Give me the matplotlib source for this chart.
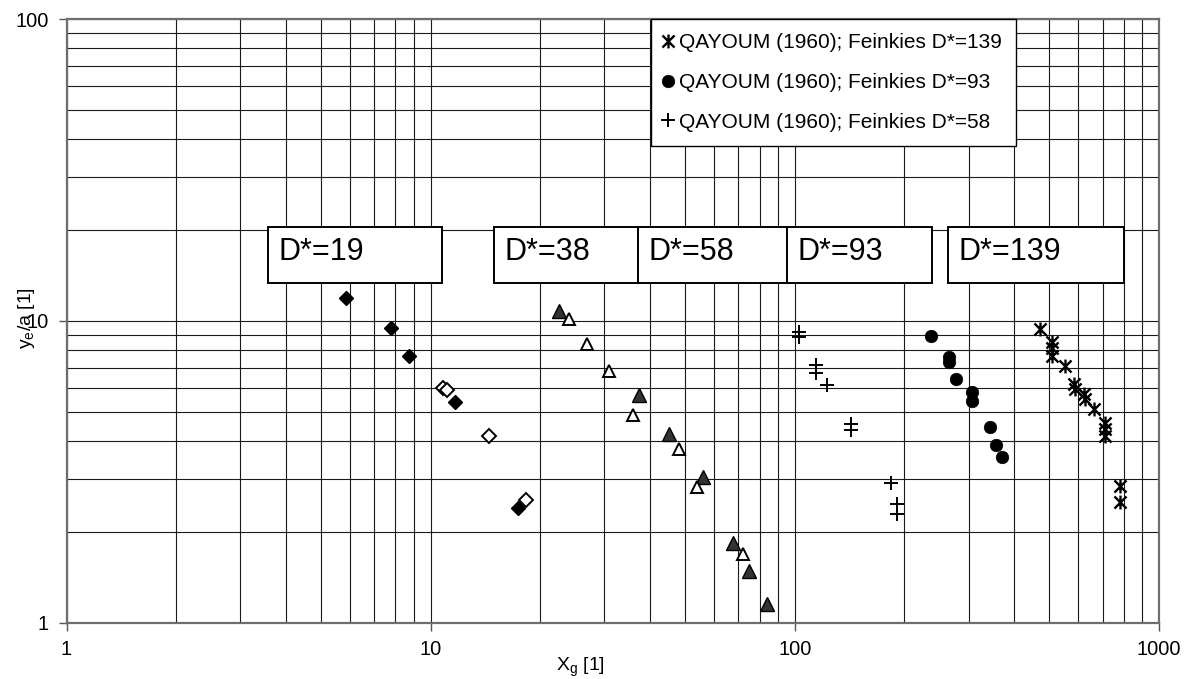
import matplotlib
matplotlib.use("Agg")
import matplotlib.pyplot as plt
from matplotlib.path import Path
from matplotlib.patches import Rectangle
from matplotlib.ticker import FixedLocator, LogLocator, FuncFormatter, NullFormatter

# ---------------------------------------------------------------- data
# D*=19 (diamonds)
dia_filled_x = [5.85, 7.77, 8.71, 11.65, 17.34]
dia_filled_y = [11.92, 9.48, 7.66, 5.39, 2.40]
dia_open_x = [10.80, 11.07, 14.44, 18.24]
dia_open_y = [6.00, 5.91, 4.16, 2.55]

# D*=38 / D*=58 (triangles)
tri_filled_x = [22.46, 37.3, 45.0, 55.8, 67.5, 74.8, 83.8]
tri_filled_y = [10.82, 5.69, 4.22, 3.05, 1.845, 1.49, 1.153]
tri_open_x = [23.98, 26.87, 30.88, 35.94, 47.96, 53.84, 72.0]
tri_open_y = [10.13, 8.37, 6.85, 4.88, 3.77, 2.82, 1.69]

# QAYOUM (1960), Feinkies D*=58
plus_x = [102.6, 102.6, 114.5, 114.5, 122.4, 142.2, 142.2, 183.1, 190.2, 190.2]
plus_y = [9.22, 8.83, 7.15, 6.71, 6.14, 4.56, 4.36, 2.90, 2.48, 2.30]

# QAYOUM (1960), Feinkies D*=93
circ_x = [237.2, 265.8, 265.8, 276.6, 305.9, 305.9, 342.8, 356.0, 369.8]
circ_y = [8.92, 7.62, 7.33, 6.43, 5.81, 5.45, 4.46, 3.89, 3.55]

# QAYOUM (1960), Feinkies D*=139
ast_x = [472.4, 508.6, 508.6, 508.6, 552.1, 583.0, 589.3, 623.7, 627.6,
         664.5, 709.1, 709.1, 709.1, 781.6, 781.6]
ast_y = [9.39, 8.54, 8.11, 7.66, 7.10, 6.18, 5.95, 5.72, 5.52,
         5.10, 4.58, 4.39, 4.16, 2.84, 2.52]

legend_labels = ["QAYOUM (1960); Feinkies D*=139",
                 "QAYOUM (1960); Feinkies D*=93",
                 "QAYOUM (1960); Feinkies D*=58"]

box_labels = ["D*=19", "D*=38", "D*=58", "D*=93", "D*=139"]

x_ticks = [1, 10, 100, 1000]
y_ticks = [1, 10, 100]

# ---------------------------------------------------------------- style
plt.rcParams['font.family'] = ['Liberation Sans', 'DejaVu Sans']
plt.rcParams['mathtext.default'] = 'regular'

# asterisk marker: an X crossed by a vertical stroke
ASTERISK = Path([(-1, -1), (1, 1), (-1, 1), (1, -1), (0, -1.15), (0, 1.15)],
                [Path.MOVETO, Path.LINETO, Path.MOVETO, Path.LINETO,
                 Path.MOVETO, Path.LINETO])

fig = plt.figure(figsize=(11.94, 6.79), dpi=100)
ax = fig.add_axes([0.0557, 0.0825, 0.915, 0.8895])
ax.set_xscale('log')
ax.set_yscale('log')
ax.set_xlim(x_ticks[0], x_ticks[-1])
ax.set_ylim(y_ticks[0], y_ticks[-1])

fmt = FuncFormatter(lambda v, p: f"{v:g}")
ax.xaxis.set_major_locator(FixedLocator(x_ticks))
ax.yaxis.set_major_locator(FixedLocator(y_ticks))
ax.xaxis.set_minor_locator(LogLocator(base=10, subs=range(2, 10)))
ax.yaxis.set_minor_locator(LogLocator(base=10, subs=range(2, 10)))
ax.xaxis.set_major_formatter(fmt)
ax.yaxis.set_major_formatter(fmt)
ax.xaxis.set_minor_formatter(NullFormatter())
ax.yaxis.set_minor_formatter(NullFormatter())

ax.grid(which='both', color='#1a1a1a', lw=0.8, zorder=0)
ax.set_axisbelow(True)
ax.tick_params(which='minor', length=0)
ax.tick_params(which='major', length=6, width=1.0, color='#555555',
               labelsize=14.4, direction='out')
ax.tick_params(axis='x', pad=6)
ax.tick_params(axis='y', pad=7)
for s in ax.spines.values():
    s.set_color('#6e6e6e')
    s.set_linewidth(1.6)

# ---------------------------------------------------------------- series
ax.plot(dia_filled_x, dia_filled_y, ls='none', marker='D', ms=7.2,
        mfc='black', mec='black', mew=1.0, zorder=5)
ax.plot(dia_open_x, dia_open_y, ls='none', marker='D', ms=6.8,
        mfc='white', mec='black', mew=1.4, zorder=5)
ax.plot(tri_filled_x, tri_filled_y, ls='none', marker='^', ms=9.5,
        mfc='#333333', mec='black', mew=1.0, zorder=5)
ax.plot(tri_open_x, tri_open_y, ls='none', marker='^', ms=9.0,
        mfc='white', mec='black', mew=1.4, zorder=5)
h58, = ax.plot(plus_x, plus_y, ls='none', marker='+', ms=10.5, mew=1.4,
               color='black', zorder=5)
h93, = ax.plot(circ_x, circ_y, ls='none', marker='o', ms=9,
               mfc='black', mec='black', mew=0.5, zorder=5)
h139, = ax.plot(ast_x, ast_y, ls='none', marker=ASTERISK, ms=10, mew=1.7,
                color='black', zorder=5)

# ---------------------------------------------------------------- labels
ax.set_xlabel(r'$X_g$ [1]', fontsize=14)
ax.xaxis.set_label_coords(0.47, -0.055)
ax.set_ylabel(r'$y_e$/a [1]', fontsize=14)
ax.yaxis.set_label_coords(-0.027, 0.505)

# boxed D* labels above each group (axes-fraction edges)
box_edges = [(0.1842, 0.3440), (0.3916, 0.5234), (0.5234, 0.6592),
             (0.6592, 0.7925), (0.8071, 0.9682)]
box_bottom, box_top = 0.5624, 0.6551
for (x0, x1), lab in zip(box_edges, box_labels):
    ax.add_patch(Rectangle((x0, box_bottom), x1 - x0, box_top - box_bottom,
                           transform=ax.transAxes, facecolor='white',
                           edgecolor='black', lw=1.4, zorder=6))
    ax.text(x0 + 0.0095, 0.6002, lab, transform=ax.transAxes,
            fontsize=22, va='baseline', ha='left', zorder=7)

leg = ax.legend([h139, h93, h58], legend_labels, loc='upper left',
                bbox_to_anchor=(0.535, 1.0), borderaxespad=0,
                fontsize=15, frameon=True, fancybox=False,
                edgecolor='black', framealpha=1, handlelength=0.3,
                handletextpad=0.38, labelspacing=1.0, borderpad=0.67,
                numpoints=1)
leg.get_frame().set_linewidth(1.0)
leg.set_zorder(8)

fig.savefig('out.png', dpi=100)
